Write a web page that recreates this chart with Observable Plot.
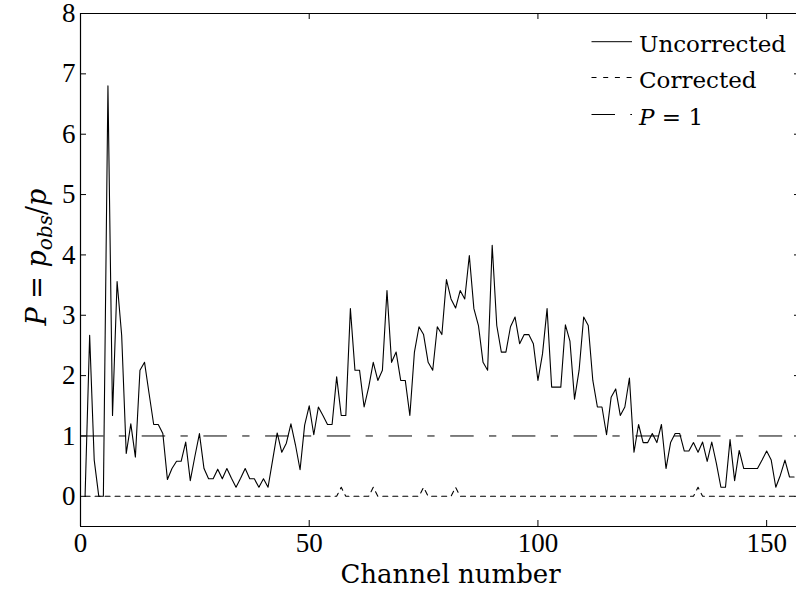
<!DOCTYPE html>
<html><head><meta charset="utf-8">
<script src="https://cdn.jsdelivr.net/npm/d3@7"></script>
<script src="https://cdn.jsdelivr.net/npm/@observablehq/plot@0.6"></script>
<style>
html,body{margin:0;padding:0;background:#fff;overflow:hidden;width:796px;height:596px;}
#wrap{position:relative;width:796px;height:596px;overflow:hidden;}
#legend{position:absolute;left:0;top:0;pointer-events:none;}
</style></head><body><div id="wrap"></div>
<script>
// ---- data ----
const firstChannel = 1;
const uncorrected = [
  0, 2.67, 0.6, 0, 0, 6.80, 1.34, 3.56, 2.67, 0.71,
  1.20, 0.65, 2.09, 2.22, 1.70, 1.19, 1.19, 1.04, 0.28, 0.46,
  0.58, 0.58, 0.90, 0.26, 0.66, 1.04, 0.46, 0.29, 0.29, 0.45,
  0.29, 0.46, 0.30, 0.15, 0.30, 0.46, 0.29, 0.29, 0.15, 0.29,
  0.15, 0.60, 1.05, 0.73, 0.88, 1.20, 0.85, 0.44, 1.18, 1.50,
  1.02, 1.48, 1.34, 1.19, 1.19, 1.98, 1.34, 1.34, 3.11, 2.09,
  2.09, 1.48, 1.81, 2.22, 1.92, 2.09, 3.41, 2.22, 2.39, 1.92,
  1.92, 1.34, 2.39, 2.81, 2.68, 2.22, 2.09, 2.81, 2.68, 3.59,
  3.27, 3.12, 3.41, 3.27, 3.99, 3.11, 2.83, 2.22, 2.09, 4.16,
  2.83, 2.39, 2.39, 2.81, 2.97, 2.53, 2.68, 2.68, 2.53, 1.92,
  2.36, 3.11, 1.81, 1.81, 1.81, 2.84, 2.57, 1.61, 2.09, 2.97,
  2.83, 1.92, 1.48, 1.48, 1.02, 1.64, 1.78, 1.34, 1.48, 1.96,
  0.73, 1.19, 0.89, 0.89, 1.04, 0.89, 1.19, 0.46, 0.89, 1.04,
  1.04, 0.75, 0.75, 0.89, 0.73, 0.90, 0.58, 0.90, 0.55, 0.15,
  0.15, 0.94, 0.26, 0.76, 0.46, 0.46, 0.46, 0.46, 0.60, 0.75,
  0.60, 0.15, 0.35, 0.60, 0.32, 0.32
];
const corrected = [
  0, 0, 0, 0, 0, 0, 0, 0, 0, 0,
  0, 0, 0, 0, 0, 0, 0, 0, 0, 0,
  0, 0, 0, 0, 0, 0, 0, 0, 0, 0,
  0, 0, 0, 0, 0, 0, 0, 0, 0, 0,
  0, 0, 0, 0, 0, 0, 0, 0, 0, 0,
  0, 0, 0, 0, 0, 0, 0.15, 0, 0, 0,
  0, 0, 0, 0.15, 0, 0, 0, 0, 0, 0,
  0, 0, 0, 0, 0.15, 0, 0, 0, 0, 0,
  0, 0.15, 0, 0, 0, 0, 0, 0, 0, 0,
  0, 0, 0, 0, 0, 0, 0, 0, 0, 0,
  0, 0, 0, 0, 0, 0, 0, 0, 0, 0,
  0, 0, 0, 0, 0, 0, 0, 0, 0, 0,
  0, 0, 0, 0, 0, 0, 0, 0, 0, 0,
  0, 0, 0, 0, 0.15, 0, 0, 0, 0, 0,
  0, 0, 0, 0, 0, 0, 0, 0, 0, 0,
  0, 0, 0, 0, 0, 0
];
const referenceLevel = [1];
const xTicks = [0, 50, 100, 150];
const yTicks = [0, 1, 2, 3, 4, 5, 6, 7, 8];
const xDomain = [0, 157.4];
const yDomain = [-0.5, 8];
const legendLabels = ["Uncorrected", "Corrected", "P = 1"];

// ---- layout ----
const W = 796, H = 596;
const mL = 80, mT = 13, mR = -4, mB = 70;
const innerW = W - mL - mR, innerH = H - mT - mB;
const tickLen = 6;

const rows = uncorrected.map((u, i) => ({channel: firstChannel + i, uncorrected: u, corrected: corrected[i]}));

const dashDot = "23.5,15.3,7.3,15.6";
const dashed = "5,5";

const plot = Plot.plot({
  width: W, height: H,
  marginLeft: mL, marginRight: mR, marginTop: mT, marginBottom: mB,
  style: {fontFamily: "Liberation Serif", fontSize: "27px", color: "black", background: "white", overflow: "hidden"},
  x: {domain: xDomain, label: null},
  y: {domain: yDomain, label: null},
  marks: [
    Plot.ruleY(referenceLevel, {stroke: "black", strokeWidth: 1, strokeDasharray: dashDot}),
    Plot.line(rows, {x: "channel", y: "corrected", stroke: "black", strokeWidth: 1.1, strokeDasharray: dashed}),
    Plot.line(rows, {x: "channel", y: "uncorrected", stroke: "black", strokeWidth: 1.1}),
    // axes box (left, bottom, top)
    Plot.ruleX([xDomain[0]], {stroke: "black", strokeWidth: 1.2}),
    Plot.ruleY([yDomain[0]], {stroke: "black", strokeWidth: 1.2}),
    Plot.ruleY([yDomain[1]], {stroke: "black", strokeWidth: 1.2}),
    // inward ticks
    Plot.tickY(yTicks, {y: d => d, stroke: "black", insetRight: innerW - tickLen}),
    Plot.tickY(yTicks, {y: d => d, stroke: "black", insetLeft: innerW - tickLen}),
    Plot.tickX(xTicks, {x: d => d, stroke: "black", insetTop: innerH - tickLen}),
    Plot.tickX(xTicks, {x: d => d, stroke: "black", insetBottom: innerH - tickLen}),
    Plot.axisY({ticks: yTicks, tickSize: 0, tickPadding: 5, label: null, fontSize: 27}),
    Plot.axisX({ticks: xTicks, tickSize: 0, tickPadding: 6, label: null, fontSize: 27}),
    Plot.text(["Channel number"], {frameAnchor: "bottom", dy: 56, dx: 10, text: d => d, fontSize: 26, fontFamily: "DejaVu Serif"})
  ]
});
document.getElementById("wrap").appendChild(plot);

// y-axis label with subscript
const svg = d3.select(plot);
const yl = svg.append("text")
  .attr("transform", "translate(46,257) rotate(-90)")
  .attr("text-anchor", "middle")
  .attr("font-family", "DejaVu Serif")
  .attr("font-size", 27)
  .attr("fill", "black");
yl.append("tspan").attr("font-style", "italic").text("P");
yl.append("tspan").text(" = ");
yl.append("tspan").attr("font-style", "italic").text("p");
yl.append("tspan").attr("font-style", "italic").attr("font-size", 20).attr("dy", 6).text("obs");
yl.append("tspan").attr("dy", -6).text("/");
yl.append("tspan").attr("font-style", "italic").text("p");

// legend overlay
const lg = d3.select("#wrap").append("svg").attr("id", "legend").attr("width", 796).attr("height", 596);
const styles = [null, "5,6.7", dashDot];
const rowY = [41.7, 77.5, 114.5];
legendLabels.forEach((lab, i) => {
  lg.append("line").attr("x1", 591.5).attr("x2", 632).attr("y1", rowY[i]).attr("y2", rowY[i])
    .attr("stroke", "black").attr("stroke-width", 1).attr("stroke-dasharray", styles[i]);
  const t = lg.append("text").attr("x", 639).attr("y", rowY[i] + 10)
    .attr("font-family", "DejaVu Serif").attr("font-size", 23).attr("fill", "black");
  if (lab.startsWith("P")) {
    t.append("tspan").attr("font-style", "italic").text("P");
    t.append("tspan").text(lab.slice(1));
  } else t.text(lab);
});
</script>
</body></html>
